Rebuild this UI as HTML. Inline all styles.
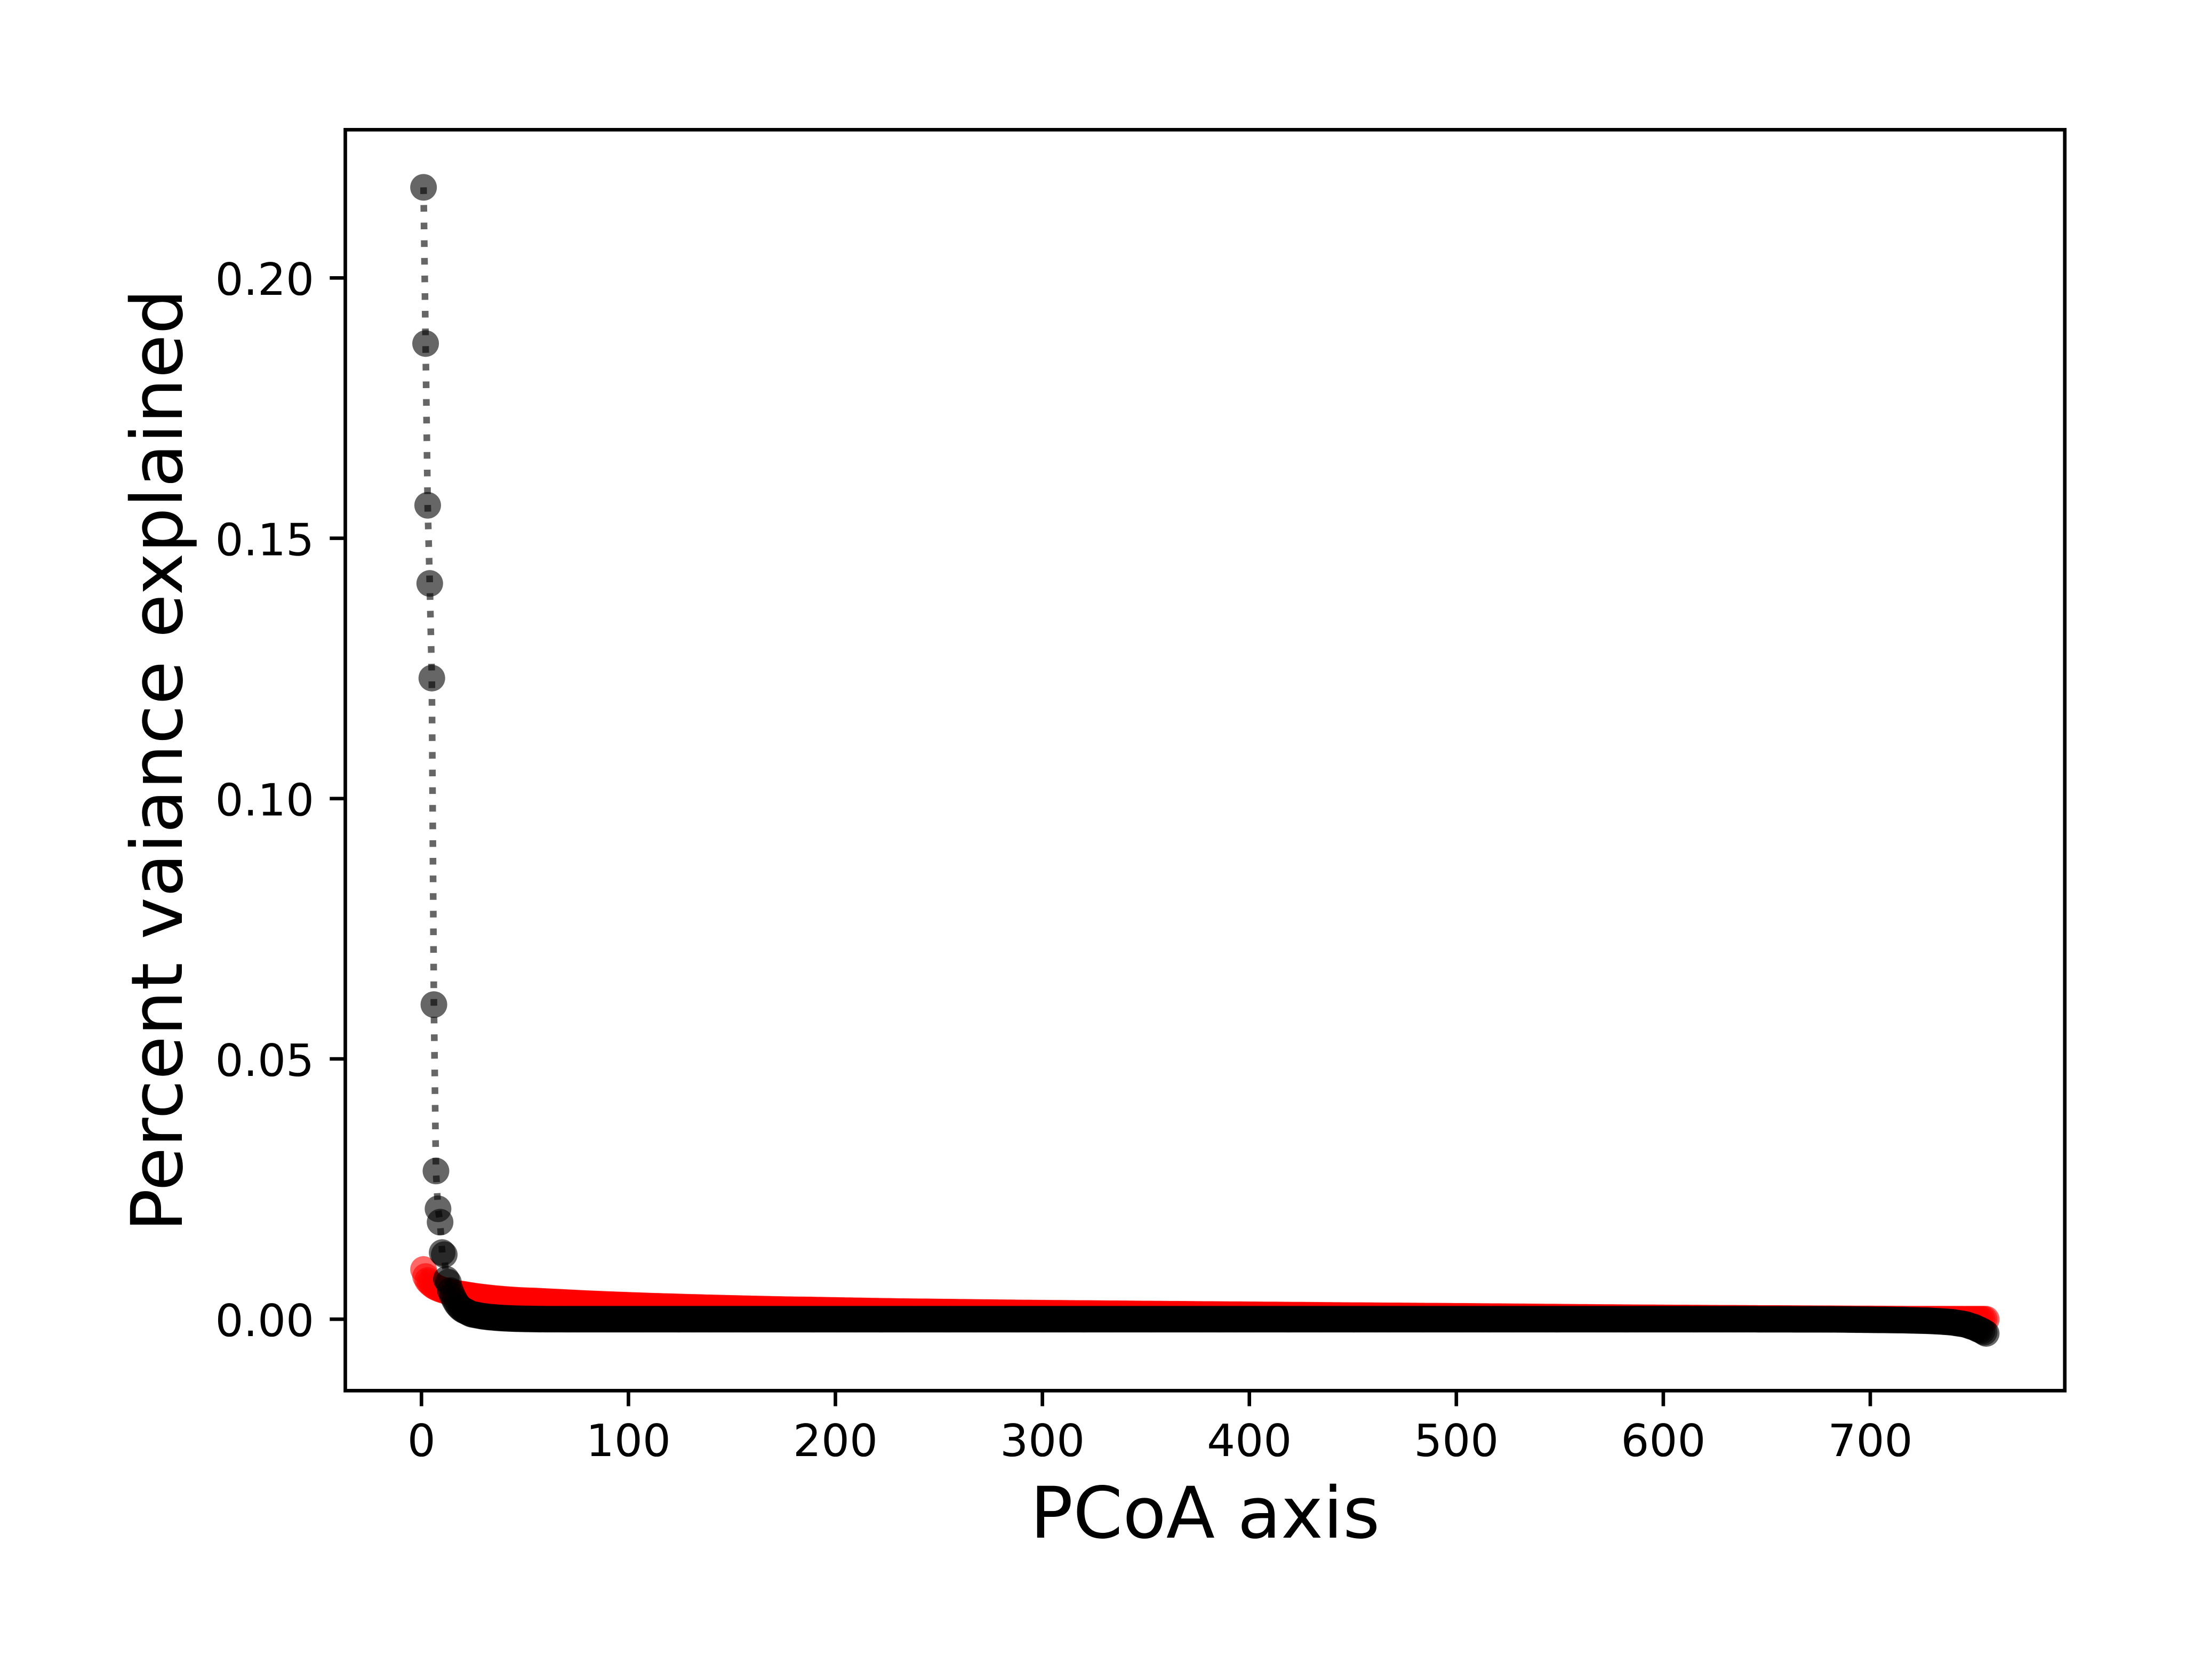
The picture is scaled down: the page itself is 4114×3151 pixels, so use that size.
<!DOCTYPE html>
<html lang="en">
<head>
<meta charset="utf-8">
<title>PCoA scree plot</title>
<style>
html,body{margin:0;padding:0;background:#fff;}
svg{display:block;}
text{font-family:"DejaVu Sans","Liberation Sans",sans-serif;fill:#000;text-rendering:geometricPrecision;}
</style>
</head>
<body>
<svg id="chart" xmlns="http://www.w3.org/2000/svg" width="4114" height="3151" viewBox="0 0 4114 3151">
<rect x="0" y="0" width="4114" height="3151" fill="#fff"/>
<g id="series"></g>
<rect x="647.5" y="243.3" width="3224.2" height="2365" fill="none" stroke="#000" stroke-width="6.67"/>
<g id="x-axis"></g>
<g id="y-axis"></g>
<text x="2259.6" y="2884" font-size="133.33" text-anchor="middle">PCoA axis</text>
<text transform="translate(341 1425.8) rotate(-90)" font-size="133.33" text-anchor="middle" style="letter-spacing:0.5px">Percent vaiance explained</text>
</svg>
<script>
const xTickValues = [0, 100, 200, 300, 400, 500, 600, 700];
const xTickLabels = ["0", "100", "200", "300", "400", "500", "600", "700"];
const yTickValues = [0, 0.05, 0.10, 0.15, 0.20];
const yTickLabels = ["0.00", "0.05", "0.10", "0.15", "0.20"];
/* Series values are in units of 0.00001 (percent variance explained), axis 1 first. */
const valueUnit = 0.00001;
const randomizedValues = [
955,820,744,700,665,635,612,594,578,565,552,541,530,521,512,504,497,490,484,479,
473,466,459,453,447,441,436,431,426,421,416,411,407,403,399,395,391,388,384,381,
378,375,372,369,367,364,362,360,358,356,355,353,352,351,349,347,345,343,341,339,
337,335,333,331,329,327,325,323,321,319,317,315,313,311,309,307,305,303,301,299,
297,296,294,292,291,289,287,286,284,282,281,279,278,276,275,273,272,270,269,267,
266,264,263,261,260,259,257,256,254,253,252,250,249,248,247,245,244,243,242,241,
240,238,237,236,235,234,232,231,230,229,228,227,226,225,224,222,221,220,219,218,
217,216,215,214,213,212,211,210,209,208,207,206,205,204,203,202,201,200,199,198,
197,196,195,195,194,193,192,191,190,189,188,188,187,186,185,184,183,183,182,181,
181,180,180,180,180,179,178,178,177,176,175,175,174,173,172,172,171,170,169,169,
168,167,167,166,165,164,164,163,162,162,161,160,159,159,158,157,157,156,155,155,
154,153,153,152,151,151,150,149,149,148,147,147,146,146,145,145,144,144,144,143,
143,143,142,142,141,141,140,140,139,139,139,138,138,137,137,136,136,135,135,134,
134,133,133,132,132,131,131,130,130,130,129,129,128,128,127,127,126,126,125,125,
125,124,124,123,123,122,122,121,121,121,120,120,119,119,118,118,118,117,117,117,
117,116,116,116,115,115,114,114,114,113,113,113,112,112,112,111,111,111,110,110,
110,110,109,109,109,108,108,108,107,107,107,106,106,106,105,105,105,104,104,104,
104,103,103,103,102,102,102,101,101,101,100,100,100,99,99,99,99,98,98,98,
97,97,97,96,96,96,95,95,95,95,94,94,94,93,93,93,92,92,92,91,
91,91,91,90,90,90,89,89,89,88,88,88,88,87,87,87,86,86,86,85,
85,85,85,84,84,84,83,83,83,82,82,82,82,81,81,81,80,80,80,79,
79,79,79,78,78,78,77,77,77,76,76,76,76,75,75,75,74,74,74,73,
72,72,72,72,71,71,71,71,70,70,70,69,69,69,69,68,68,68,68,67,
67,67,66,66,66,66,65,65,65,65,64,64,64,63,63,63,63,62,62,62,
62,61,61,61,60,60,60,60,59,59,59,58,58,58,58,57,57,57,56,56,
56,55,55,55,55,54,54,54,53,53,53,52,52,52,52,51,51,51,50,50,
50,49,49,49,48,48,48,47,47,47,46,46,46,45,45,45,44,44,44,43,
43,43,42,42,42,41,41,41,40,40,40,39,39,39,38,38,38,37,37,37,
36,36,36,35,35,35,34,34,34,34,33,33,33,32,32,32,31,31,31,31,
30,30,30,30,29,29,29,29,28,28,28,28,27,27,27,27,26,26,26,26,
25,25,25,25,24,24,24,24,23,23,23,23,22,22,22,22,22,21,21,21,
21,20,20,20,20,20,19,19,19,19,18,18,18,18,18,17,17,17,17,17,
16,16,16,16,16,15,15,15,15,15,15,14,14,14,14,14,13,13,13,13,
13,12,12,12,12,12,11,11,11,11,11,10,10,10,10,10,9,9,9,9,
9,8,8,8,8,8,7,7,7,7,7,6,6,6,6,6,5,5,5,5,
5,4,4,4,4,4,3,3,3,3,3,2,2,2,2,2,1,1,1,1,
1,1,0,0,0,0,0,0,0,0,0,0,0,0,0,0,0,0,0,0,
0,0,0,0,0,0,0,0,0,0,0,0,0,0,0,-1
];
const observedValues = [
21740,18740,15633,14132,12314,6043,2847,2120,1864,1280,1240,768,710,550,450,370,300,250,210,180,
160,140,120,100,90,85,75,70,60,55,50,45,40,38,35,30,28,25,22,20,
18,16,14,13,11,10,9,8,7,6,5,5,4,4,3,3,2,2,2,1,
1,1,1,1,1,1,1,1,0,0,0,0,0,0,0,0,0,0,0,0,
0,0,0,0,0,0,0,0,0,0,0,0,0,0,0,0,0,0,0,0,
0,0,0,0,0,0,0,0,0,0,0,0,0,0,0,0,0,0,0,0,
0,0,0,0,0,0,0,0,0,0,0,0,0,0,0,0,0,0,0,0,
0,0,0,0,0,0,0,0,0,0,0,0,0,0,0,0,0,0,0,0,
0,0,0,0,0,0,0,0,0,0,0,0,0,0,0,0,0,0,0,0,
0,0,0,0,0,0,0,0,0,0,0,0,0,0,0,0,0,0,0,0,
0,0,0,0,0,0,0,0,0,0,0,0,0,0,0,0,0,0,0,0,
0,0,0,0,0,0,0,0,0,0,0,0,0,0,0,0,0,0,0,0,
0,0,0,0,0,0,0,0,0,0,0,0,0,0,0,0,0,0,0,0,
0,0,0,0,0,0,0,0,0,0,0,0,0,0,0,0,0,0,0,0,
0,0,0,0,0,0,0,0,0,0,0,0,0,0,0,0,0,0,0,0,
0,0,0,0,0,0,0,0,0,0,0,0,0,0,0,0,0,0,0,0,
0,0,0,0,0,0,0,0,0,0,0,0,0,0,0,0,0,0,0,0,
0,0,0,0,0,0,0,0,0,0,0,0,0,0,0,0,0,0,0,0,
0,0,0,0,0,0,0,0,0,0,0,0,0,0,0,0,0,0,0,0,
0,0,0,0,0,0,0,0,0,0,0,0,0,0,0,0,0,0,0,0,
0,0,0,0,0,0,0,0,0,0,0,0,0,0,0,0,0,0,0,0,
0,0,0,0,0,0,0,0,0,0,0,0,0,0,0,0,0,0,0,0,
0,0,0,0,0,0,0,0,0,0,0,0,0,0,0,0,0,0,0,0,
0,0,0,0,0,0,0,0,0,0,0,0,0,0,0,0,0,0,0,0,
0,0,0,0,0,0,0,0,0,0,0,0,0,0,0,0,0,0,0,0,
0,0,0,0,0,0,0,0,0,0,0,0,0,0,0,0,0,0,0,0,
0,0,0,0,0,0,0,0,0,0,0,0,0,0,0,0,0,0,0,0,
0,0,0,0,0,0,0,0,0,0,0,0,0,0,0,0,0,0,0,0,
0,0,0,0,0,0,0,0,0,0,0,0,0,0,0,0,0,0,0,0,
0,0,0,0,0,0,0,0,0,0,0,0,0,0,0,0,0,0,0,0,
0,0,0,0,0,0,0,0,0,0,0,0,0,0,0,0,0,0,0,0,
0,0,0,0,0,0,0,0,0,0,0,0,0,0,0,0,0,0,0,0,
0,0,0,0,0,-1,-1,-1,-1,-1,-1,-1,-1,-1,-1,-1,-1,-1,-1,-1,
-1,-1,-2,-2,-2,-2,-2,-2,-2,-2,-2,-2,-2,-2,-2,-2,-3,-3,-3,-3,
-3,-3,-3,-4,-4,-4,-5,-5,-6,-6,-7,-7,-8,-9,-9,-9,-10,-10,-10,-11,
-11,-12,-12,-13,-13,-13,-14,-14,-15,-15,-16,-16,-17,-17,-18,-18,-19,-20,-21,-22,
-23,-24,-25,-26,-27,-28,-29,-30,-32,-34,-36,-38,-40,-42,-45,-48,-51,-54,-57,-60,
-69,-74,-80,-86,-92,-100,-112,-127,-140,-150,-170,-190,-205,-225,-250,-273
];

const SVG_NS = "http://www.w3.org/2000/svg";
const TICK_LEN = 29.17;
const TICK_W = 6.67;
const FRAME_LEFT = 647.5;
const FRAME_BOTTOM = 2608.3;
function xScale(v) { return 790.3 + 3.881 * v; }
function yScale(v) { return 2474.3 - 9765 * v; }

function drawSeries(values, color, label) {
  const parent = document.getElementById("series");
  const group = document.createElementNS(SVG_NS, "g");
  
  
  parent.appendChild(group);
  let d = "";
  values.forEach(function (raw, i) {
    const cx = xScale(i + 1);
    const cy = yScale(raw * valueUnit);
    d += (i === 0 ? "M" : "L") + cx.toFixed(2) + " " + cy.toFixed(2);
    const dot = document.createElementNS(SVG_NS, "circle");
    
    
    dot.setAttribute("cx", cx.toFixed(2));
    dot.setAttribute("cy", cy.toFixed(2));
    dot.setAttribute("r", "25");
    dot.setAttribute("fill", color);
    dot.setAttribute("fill-opacity", "0.6");
    group.appendChild(dot);
  });
  const line = document.createElementNS(SVG_NS, "path");
  
  
  line.setAttribute("d", d);
  line.setAttribute("fill", "none");
  line.setAttribute("stroke", color);
  line.setAttribute("stroke-opacity", "0.6");
  line.setAttribute("stroke-width", "12.5");
  line.setAttribute("stroke-dasharray", "12.5 20.6");
  group.appendChild(line);
}

function drawAxes() {
  const xAxis = document.getElementById("x-axis");
  xTickValues.forEach(function (v, i) {
    const x = xScale(v);
    const tick = document.createElementNS(SVG_NS, "line");
    
    
    tick.setAttribute("x1", x);
    tick.setAttribute("x2", x);
    tick.setAttribute("y1", FRAME_BOTTOM);
    tick.setAttribute("y2", FRAME_BOTTOM + TICK_LEN);
    tick.setAttribute("stroke", "#000");
    tick.setAttribute("stroke-width", TICK_W);
    xAxis.appendChild(tick);
    const text = document.createElementNS(SVG_NS, "text");
    
    
    text.setAttribute("x", x);
    text.setAttribute("y", 2731);
    text.setAttribute("font-size", "83.33");
    text.setAttribute("text-anchor", "middle");
    text.textContent = xTickLabels[i];
    xAxis.appendChild(text);
  });
  const yAxis = document.getElementById("y-axis");
  yTickValues.forEach(function (v, i) {
    const y = yScale(v);
    const tick = document.createElementNS(SVG_NS, "line");
    
    
    tick.setAttribute("x1", FRAME_LEFT - TICK_LEN);
    tick.setAttribute("x2", FRAME_LEFT);
    tick.setAttribute("y1", y);
    tick.setAttribute("y2", y);
    tick.setAttribute("stroke", "#000");
    tick.setAttribute("stroke-width", TICK_W);
    yAxis.appendChild(tick);
    const text = document.createElementNS(SVG_NS, "text");
    
    
    text.setAttribute("x", 589);
    text.setAttribute("y", y + 31.7);
    text.setAttribute("font-size", "83.33");
    text.setAttribute("text-anchor", "end");
    text.textContent = yTickLabels[i];
    yAxis.appendChild(text);
  });
}

drawSeries(randomizedValues, "#ff0000", "randomized");
drawSeries(observedValues, "#000000", "observed");
drawAxes();
</script>
</body>
</html>
